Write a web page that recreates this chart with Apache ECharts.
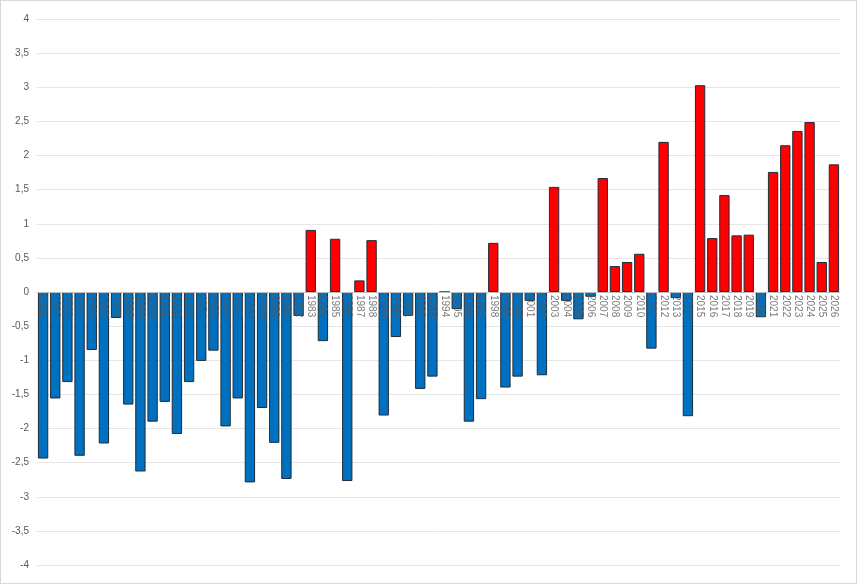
<!DOCTYPE html>
<html><head><meta charset="utf-8">
<script src="https://cdn.jsdelivr.net/npm/echarts@6/dist/echarts.min.js"></script>
<style>html,body{margin:0;padding:0;}#c{width:857px;height:584px;box-sizing:border-box;border:1px solid #d9d9d9;}</style>
</head><body><div id="c"></div>
<script>
const years = [];
for (let y = 1961; y <= 2026; y++) years.push(String(y));
const values = [-2.44,-1.56,-1.32,-2.40,-0.85,-2.22,-0.38,-1.65,-2.63,-1.90,-1.61,-2.08,-1.32,-1.01,-0.86,-1.97,-1.56,-2.79,-1.70,-2.21,-2.74,-0.35,
0.91,-0.72,0.78,-2.77,0.17,0.76,-1.81,-0.66,-0.35,-1.42,-1.24,0,-0.25,-1.90,-1.57,0.72,-1.40,-1.24,-0.13,-1.22,1.54,-0.13,-0.40,-0.07,
1.67,0.38,0.44,0.56,-0.83,2.20,-0.09,-1.82,3.03,0.79,1.42,0.83,0.84,-0.37,1.76,2.15,2.36,2.49,0.44,1.87];
const zeros = years.map(()=>0);
const chart = echarts.init(document.getElementById('c'));
chart.setOption({
  animation:false,
  grid:{left:36,right:16,top:18,bottom:18},
  xAxis:{type:'category',data:years,
    axisLine:{show:false},axisTick:{show:false},axisLabel:{show:false}},
  yAxis:{type:'value',min:-4,max:4,interval:0.5,
    axisLine:{show:false},axisTick:{show:false},
    splitLine:{lineStyle:{color:'#e6e6e6'}},
    axisLabel:{color:'#595959',fontSize:10,fontFamily:'Liberation Sans',formatter:v=>String(v).replace('.',',')}},
  series:[{type:'bar',barCategoryGap:'15%',
    data:values.map(v=>({value:v,itemStyle:{color:v>=0?'#ff0000':'#0070c0'}})),
    itemStyle:{borderColor:'#1f2d3a',borderWidth:1},
    markLine:{silent:true,symbol:'none',label:{show:false},lineStyle:{color:'#bfbfbf',type:'solid',width:1},data:[{yAxis:0}]}},
  {type:'scatter',data:zeros,symbolSize:0,z:10,silent:true,
    label:{show:true,position:'bottom',distance:3,rotate:-90,align:'left',verticalAlign:'middle',
      color:'#595959',fontSize:10,fontFamily:'Liberation Sans',formatter:p=>years[p.dataIndex]}}]
});
</script></body></html>
